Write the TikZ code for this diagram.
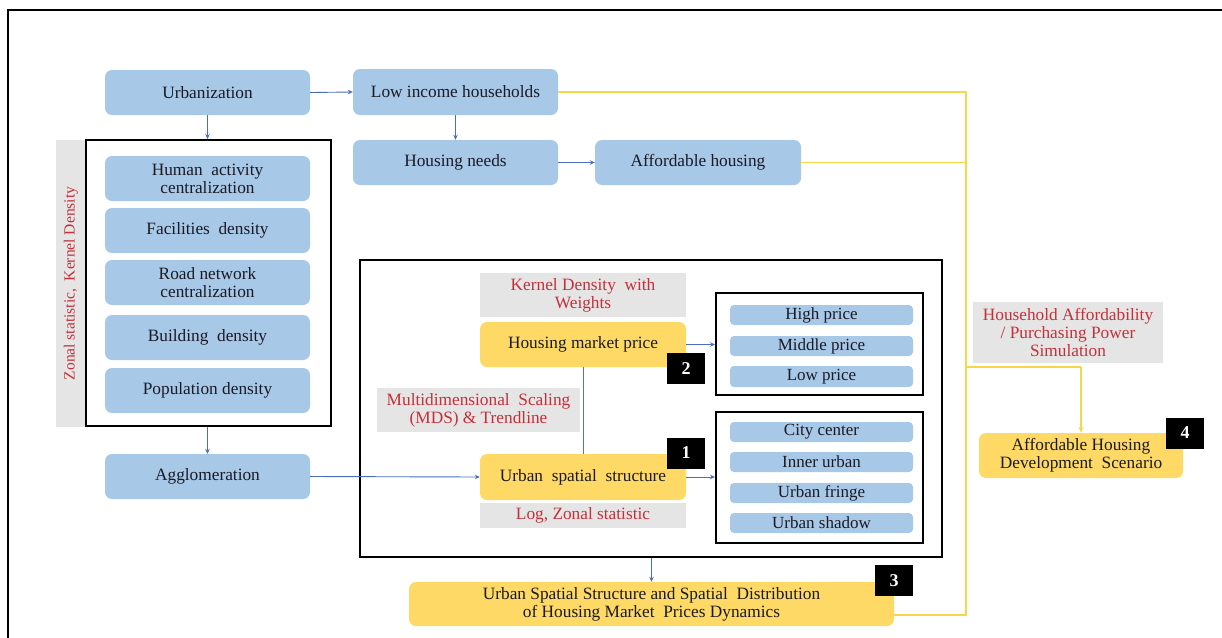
\documentclass[tikz,border=0pt]{standalone}
\usepackage{fontspec}
\setmainfont{Liberation Serif}
\usetikzlibrary{arrows.meta,positioning}
\definecolor{bfill}{HTML}{A8C8E8}
\definecolor{yfill}{HTML}{FFD966}
\definecolor{gfill}{HTML}{E5E5E5}
\definecolor{rtext}{HTML}{C3303A}
\definecolor{bline}{HTML}{4A6FB8}
\definecolor{yline}{HTML}{F7D64A}
\definecolor{ttext}{HTML}{1A1A24}
\tikzset{
  base/.style={inner sep=0pt, align=center, text=ttext, font=\fontsize{17.3}{18}\selectfont},
  bluebox/.style={base, fill=bfill, rounded corners=7pt},
  smallblue/.style={base, fill=bfill, rounded corners=4pt, font=\fontsize{17}{18}\selectfont},
  yellowbox/.style={base, fill=yfill, rounded corners=7pt},
  graylabel/.style={base, fill=gfill, text=rtext},
  badge/.style={inner sep=0pt, fill=black, text=white, font=\fontsize{18}{19}\selectfont\bfseries, minimum width=38pt, minimum height=31pt},
  frame/.style={draw=black, line width=2pt, inner sep=0pt},
  barrow/.style={draw=bline, line width=0.9pt, -{Stealth[length=5pt,width=4.5pt]}},
  yconn/.style={draw=yline, line width=1.6pt},
}
\begin{document}
\begin{tikzpicture}[x=1pt,y=-1pt]
\useasboundingbox (0,0) rectangle (1222,637);
\fill[white] (0,0) rectangle (1222,637);
% outer frame
\draw[line width=2.2pt] (8,640) -- (8,10) -- (1225,10);

% top row
\node[bluebox, minimum width=205pt, minimum height=45pt] (urb) at (207.5,92.5) {Urbanization};
\node[bluebox, minimum width=205pt, minimum height=46pt] (low) at (455.5,92) {Low income households};
\node[bluebox, minimum width=205pt, minimum height=45pt] (need) at (455.5,162.5) {Housing needs};
\node[bluebox, minimum width=206pt, minimum height=45pt] (aff) at (698,162.5) {Affordable housing};

% left group
\node[fill=gfill, minimum width=30pt, minimum height=287pt, inner sep=0pt] (strip) at (71,283.5) {};
\node[base, text=rtext, rotate=90, font=\fontsize{15.5}{17}\selectfont] (striplbl) at (71,283.5) {Zonal statistic,\ \ Kernel Density};
\node[frame, minimum width=245pt, minimum height=286pt] (lbox) at (208.5,283) {};
\node[bluebox, minimum width=205pt, minimum height=45pt] (hum) at (207.5,178.5) {Human\ \ activity\\centralization};
\node[bluebox, minimum width=205pt, minimum height=45pt] (fac) at (207.5,230.5) {Facilities\ \ density};
\node[bluebox, minimum width=205pt, minimum height=45pt] (road) at (207.5,282.5) {Road network\\centralization};
\node[bluebox, minimum width=205pt, minimum height=45pt] (bld) at (207.5,337.5) {Building\ \ density};
\node[bluebox, minimum width=205pt, minimum height=45pt] (pop) at (207.5,390.5) {Population density};
\node[bluebox, minimum width=205pt, minimum height=45pt] (agg) at (207.5,476.5) {Agglomeration};

% middle group
\node[frame, minimum width=582pt, minimum height=297pt] (mbox) at (651,408.5) {};
\node[graylabel, minimum width=206pt, minimum height=44pt] (kdw) at (583,295) {Kernel Density\ \ with\\Weights};
\node[yellowbox, minimum width=206pt, minimum height=45pt] (hmp) at (583,344.5) {Housing market price};
\node[graylabel, minimum width=203pt, minimum height=44pt] (mds) at (478.5,410) {Multidimensional\ \ Scaling\\(MDS) \& Trendline};
\node[yellowbox, minimum width=206pt, minimum height=46pt] (uss) at (583,477) {Urban\ \ spatial\ \ structure};
\node[graylabel, minimum width=206pt, minimum height=25pt] (logz) at (583,515.5) {Log, Zonal statistic};
\node[badge] (b2) at (686,368.5) {2};
\node[badge] (b1) at (686,453) {1};

\node[frame, minimum width=207pt, minimum height=102pt] (pbox) at (819.5,344) {};
\node[smallblue, minimum width=183pt, minimum height=20pt] (high) at (821.5,315) {High price};
\node[smallblue, minimum width=183pt, minimum height=20pt] (mid) at (821.5,346) {Middle price};
\node[smallblue, minimum width=183pt, minimum height=21pt] (lowp) at (821.5,376.5) {Low price};

\node[frame, minimum width=207pt, minimum height=131pt] (abox) at (819.5,477.5) {};
\node[smallblue, minimum width=183pt, minimum height=20pt] (city) at (821.5,432) {City center};
\node[smallblue, minimum width=183pt, minimum height=20pt] (inner) at (821.5,462) {Inner urban};
\node[smallblue, minimum width=183pt, minimum height=20pt] (fringe) at (821.5,493) {Urban fringe};
\node[smallblue, minimum width=183pt, minimum height=20pt] (shadow) at (821.5,523) {Urban shadow};

% bottom
\node[yellowbox, minimum width=485pt, minimum height=44pt] (res) at (651.5,604) {Urban Spatial Structure and Spatial\ \ Distribution\\of Housing Market\ \ Prices Dynamics};
\node[badge] (b3) at (894,580.5) {3};

% right
\node[graylabel, minimum width=190pt, minimum height=61pt] (hh) at (1068,332.5) {Household Affordability\\/ Purchasing Power\\Simulation};
\node[yellowbox, minimum width=204pt, minimum height=45pt] (ahds) at (1081,455.5) {Affordable Housing\\Development\ \ Scenario};
\node[badge] (b4) at (1185,433) {4};

% coordinates for yellow connectors
\coordinate (jtop) at (966,92);
\coordinate (jaff) at (966,162.5);
\coordinate (jhh) at (966,367);
\coordinate (jbot) at (966,615);
\coordinate (hcorner) at (1081,367);

% blue arrows
\draw[barrow] (urb.east) -- (low.west);
\draw[barrow] (urb.south) -- (lbox.north -| urb.south);
\draw[barrow] (low.south) -- (need.north);
\draw[barrow] (need.east) -- (aff.west);
\draw[barrow] (lbox.south -| agg.north) -- (agg.north);
\draw[barrow] (agg.east) -- (uss.west);
\draw[draw=bline!70!gray, line width=0.9pt] (hmp.south) -- (uss.north);
\draw[barrow] (hmp.east) -- (pbox.west |- hmp.east);
\draw[barrow] (uss.east) -- (abox.west |- uss.east);
\draw[barrow] (mbox.south -| res.north) -- (res.north);

% yellow connectors
\draw[yconn] (low.east) -- (jtop) -- (jbot) -- ([yshift=-11pt]res.east);
\draw[yconn] (aff.east) -- (jaff);
\draw[yconn] (jhh) -- (hcorner);
\draw[yconn, -{Stealth[length=6pt,width=5pt]}] (hcorner) -- (ahds.north);
\end{tikzpicture}
\end{document}
